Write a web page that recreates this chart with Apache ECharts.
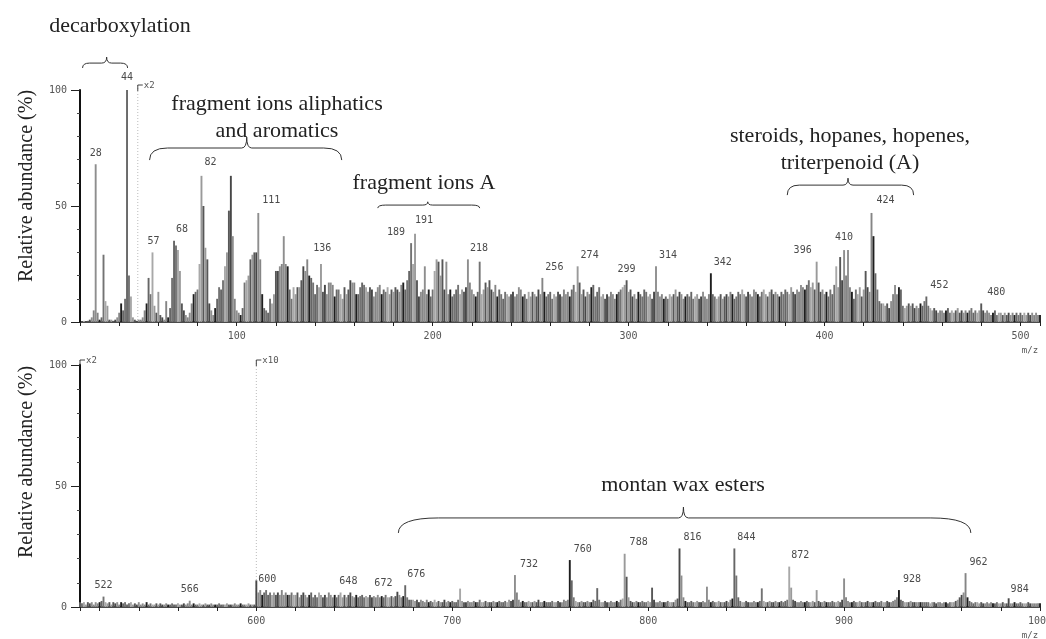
<!DOCTYPE html>
<html><head><meta charset="utf-8">
<script src="https://cdn.jsdelivr.net/npm/echarts@6/dist/echarts.min.js"></script>
<style>html,body{margin:0;padding:0;background:#fff}#c{width:1046px;height:639px}</style>
</head><body><div id="c"></div>
<script>
// ---------- DATA ----------
const topStart = 20; // m/z of first value, one value per integer m/z
const topValues = [
  0,0,0.5,0,0.5,1,2,5,68,4,
  1,2,29,9,7,1,1,0.5,1,2,
  4,8,5,10,100,20,11,2,1,0.5,
  1,1,2,5,8,19,12,30,7,4,
  13,3,2,1,9,2,6,19,35,33,
  31,22,8,5,3,2,4,8,12,13,
  14,25,63,50,32,27,8,5,3,6,
  10,15,14,18,24,30,48,63,37,10,
  5,4,3,6,17,18,20,27,29,30,
  30,47,27,12,6,5,4,10,8,12,
  22,22,24,25,37,25,24,14,10,15,
  12,15,15,18,24,22,27,20,19,17,
  12,16,15,25,13,16,12,17,17,16,
  11,14,14,12,10,15,12,14,18,17,
  17,12,12,15,17,16,15,13,15,14,
  11,13,15,16,12,14,13,15,12,14,
  13,15,14,13,16,17,14,18,22,34,
  25,38,18,11,13,14,24,12,14,11,
  14,22,27,26,20,27,14,26,12,14,
  11,12,14,16,12,14,13,15,27,17,
  14,12,11,13,26,12,14,17,15,18,
  14,13,16,11,14,12,10,13,12,11,
  12,13,11,12,15,14,11,12,10,13,
  11,13,12,11,14,12,19,13,11,12,
  13,10,12,11,13,12,11,14,12,13,
  11,14,16,13,24,17,12,14,11,13,
  12,15,16,11,13,15,11,12,10,12,
  11,13,12,10,12,13,14,15,16,18,
  13,14,11,12,10,13,12,11,14,13,
  11,12,10,13,24,13,11,12,10,11,
  10,12,11,12,14,11,13,12,10,11,
  12,11,13,10,11,12,10,11,13,11,
  10,12,21,12,11,10,11,12,10,11,
  12,11,13,12,10,11,13,12,14,12,
  11,13,12,11,14,13,12,11,13,14,
  12,11,13,14,12,13,12,11,13,12,
  14,13,12,15,13,12,14,13,16,15,
  14,16,18,15,17,14,26,17,13,14,
  12,13,11,14,12,16,24,15,28,18,
  31,20,31,15,13,10,14,12,15,11,
  14,22,15,13,47,37,21,14,9,8,
  8,7,8,6,9,12,16,12,15,14,
  7,6,7,8,7,8,6,7,6,8,
  7,9,11,7,6,5,6,5,4,5,
  5,4,5,6,4,5,4,5,6,4,
  5,4,5,4,5,6,4,5,4,5,
  8,5,4,5,4,3,4,5,3,4,
  4,3,4,3,4,3,4,3,4,3,
  4,3,4,3,4,3,4,3,4,3,
  3
];
const bottomStart = 510;
const bottomValues = [
  2,1.5,2,1,2,1.5,2,1,2,1.5,
  2,2.5,4.3,2,1.5,2,1,2,1.5,2,
  1,2,1.5,2,1,1.5,2,1,1.5,1,
  2,1,1.5,1,2,1,1.5,1,1,1.5,
  1,1.5,1,1,1.5,1,1,1.5,1,1,
  1.5,1,1,1.5,1,1.5,2.6,1,1.5,1,
  1,1.5,1,1,1.5,1,1,1.5,1,1,
  1,1.5,1,1,1,1.5,1,1,1,1.5,
  1,1,1.5,1,1,1,1.5,1,1,1,
  11,6,7,5,6,7,5,6,5,6,
  5,6,5,7,5,6,5,5,6,5,
  5,6,4,5,6,5,4,5,6,4,
  5,4,6,5,4,5,4,6,5,4,
  5,4,5,6,4,5,4,5,6,4.5,
  4,5,4,4.5,5,4,4.5,4,5,4,
  4.5,4,5,4,4.5,4,5,4,4,4.5,
  4,4.5,6.3,5,4,4.5,9,4,3,3,
  3,2.5,3,2,3,2.5,2,3,2,2.5,
  2,3,2,2.5,2,2,3,2,2.5,2,
  2.5,2,2,3,7.6,2.5,2,2,2.5,2,
  2,2.5,2,2,3,2,2,2.5,2,2,
  2,2.5,2,2,2.5,2,2,2.5,2,3,
  2.5,3,13.2,6,3,2,2.5,2,2,2.5,
  2,2,2.5,2,3,2,2,2.5,2,2,
  2,2.5,2,2,2.5,2,2,3,2.5,3,
  19.4,11,4,2.5,2,2,2.5,2,2,2.5,
  2,2,3,2.5,7.8,3,2,2,2.5,2,
  2,2.5,2,2,2.5,2,3,3.5,22,12.5,
  4,2.5,2,2,2.5,2,2,2.5,2,2,
  2.5,2,8,3,2,2,2.5,2,2,2,
  2.5,2,2,2,3,3.5,24.2,13,4,2.5,
  2,2,2.5,2,2,2.5,2,2,2.5,2,
  8.4,3,2,2.5,2,2,2.5,2,2,2,
  2.5,2,3,3.5,24.2,13,4,2.5,2,2,
  2.5,2,2,2,2.5,2,2,2.5,7.7,2.5,
  2,2,2.5,2,2,2.5,2,2,2.5,2,
  2.5,3,16.7,8,3,2.5,2,2,2.5,2,
  2,2.5,2,2,2.5,2,7,2.5,2,2,
  2.5,2,2,2,2.5,2,2,2.5,2,3,
  11.8,4,2.5,2,2,2.5,2,2,2.5,2,
  2,2,2.5,2,2,2,2.5,2,2,2.5,
  2,2,2.5,2,2,2.5,3,4,7,3,
  2.5,2,2,2,2.5,2,2,2,2,2,
  2,2,2,2,1.5,2,2,1.5,2,2,
  1.5,2,2,1.5,2,2,2,2.5,3,4,
  5,6,14,4,2.5,2,1.5,2,2,1.5,
  2,1.5,1.5,2,1.5,2,1.5,1.5,2,1.5,
  1.5,2,1.5,1.5,3.6,1.5,1.5,2,1.5,1.5,
  2,1.5,1.5,1.5,2,1.5,1.5,1.5,1.5,1.5,
  1.5
];
const topPeakLabels = [28,44,57,68,82,111,136,189,191,218,256,274,299,314,342,396,410,424,452,480];
const bottomPeakLabels = [522,566,600,648,672,676,732,760,788,816,844,872,928,962,984];
const xTickLabelsTop = [100,200,300,400,500];
const xTickLabelsBottom = [600,700,800,900,1000];
const yTickLabels = [0,50,100];
const yTitle = 'Relative abundance (%)';
const xUnit = 'm/z';
const annotations = [
  {text:'decarboxylation'},
  {text:'fragment ions aliphatics'},
  {text:'and aromatics'},
  {text:'fragment ions A'},
  {text:'steroids, hopanes, hopenes,'},
  {text:'triterpenoid (A)'},
  {text:'montan wax esters'}
];
const magnifiers = [{grid:0, mz:49.5, text:'x2'},{grid:1, mz:510, text:'x2'},{grid:1, mz:600, text:'x10'}];
// brace ranges in data units (m/z range, apex m/z, levels in %)
const braces = [
  {grid:0, from:21.3, to:44.3, apex:33.6, yEnd:109.5, yFlat:111.6, yTip:114.2},
  {grid:0, from:55.5, to:153.6, apex:105.1, yEnd:69.8, yFlat:75, yTip:79.7},
  {grid:0, from:172, to:224, apex:197.5, yEnd:49.1, yFlat:50.4, yTip:51.8},
  {grid:0, from:381, to:445.5, apex:412, yEnd:54.7, yFlat:59, yTip:62},
  {grid:1, from:672.5, to:964.7, apex:818, yEnd:30.6, yFlat:36.8, yTip:41.3}
];

// ---------- LAYOUT / STYLE ----------
const labelShift = {28:[0,0],44:[0,-2],57:[1,0],68:[8,0],82:[9,-2],111:[13,-2],136:[15,0],189:[-15,0],191:[9,-2],218:[11,0],
  256:[12,0],274:[12,0],299:[0,0],314:[12,0],342:[12,0],396:[-14,0],410:[0,-2],424:[14,-2],452:[13,0],480:[15,0],
  522:[0,0],566:[0,0],600:[11,10],648:[-2,0],672:[-14,3],676:[11,0],732:[14,0],760:[13,0],788:[14,0],816:[13,0],
  844:[12,0],872:[11,0],928:[13,0],962:[13,0],984:[11,2]};
const braceRound = [7, 18, 8, 12, 40];
const annoPos = [[120,26],[277,104],[277,131],[424,183],[850,136],[850,163],[683,485]];
const shades = ['#666666','#858585','#474747','#9a9a9a','#737373','#1e1e1e','#8e8e8e','#575757','#a8a8a8'];
const monoFont = '"DejaVu Sans Mono", monospace';
const serifFont = '"Liberation Serif", "DejaVu Serif", serif';

function buildData(start, values, labels) {
  return values.map((v, i) => {
    const m = start + i;
    const item = { value: [m, v] };
    if (labels.indexOf(m) >= 0) {
      const s = labelShift[m] || [10, 0];
      item.label = { show: true, formatter: String(m), offset: [s[0], -2 + s[1]] };
    }
    return item;
  });
}

function xAxisFor(gridIndex, min, max, labels) {
  return {
    type: 'value', gridIndex, min, max, splitNumber: 25,
    axisLine: { show: true, onZero: false, lineStyle: { color: '#111', width: 1.5 } },
    axisTick: { show: true, length: 4, lineStyle: { color: '#222' } },
    axisLabel: { margin: 9, fontFamily: monoFont, fontSize: 10, color: '#555', hideOverlap: false,
      formatter: v => labels.indexOf(v) >= 0 ? String(v) : '' , showMinLabel: true, showMaxLabel: true},
    splitLine: { show: false }
  };
}
function yAxisFor(gridIndex) {
  return {
    type: 'value', gridIndex, min: 0, max: 100, interval: 50,
    axisLine: { show: true, lineStyle: { color: '#111', width: 2 } },
    axisTick: { show: true, length: 9, lineStyle: { color: '#222' } },
    minorTick: { show: true, splitNumber: 5, length: 3, lineStyle: { color: '#444' } },
    axisLabel: { margin: 13, fontFamily: monoFont, fontSize: 10, color: '#555',
      formatter: v => yTickLabels.indexOf(v) >= 0 ? String(v) : '' },
    splitLine: { show: false }
  };
}
const barStyle = {
  color: p => shades[(p.dataIndex * 4 + (p.dataIndex >> 3)) % shades.length]
};
const labelStyle = { show: false, position: 'top', distance: 4, fontFamily: monoFont, fontSize: 10, color: '#4a4a4a' };

const option = {
  animation: false,
  backgroundColor: '#fff',
  grid: [
    { left: 80, right: 6, top: 90, height: 232, outerBoundsMode: 'none', containLabel: false },
    { left: 80, right: 6, top: 365, height: 242, outerBoundsMode: 'none', containLabel: false }
  ],
  xAxis: [xAxisFor(0, 20, 510, xTickLabelsTop), xAxisFor(1, 510, 1000, xTickLabelsBottom)],
  yAxis: [yAxisFor(0), yAxisFor(1)],
  series: [
    { type: 'bar', xAxisIndex: 0, yAxisIndex: 0, barWidth: 1.9, itemStyle: barStyle, label: labelStyle,
      data: buildData(topStart, topValues, topPeakLabels), clip: false },
    { type: 'bar', xAxisIndex: 1, yAxisIndex: 1, barWidth: 1.9, itemStyle: barStyle, label: labelStyle,
      data: buildData(bottomStart, bottomValues, bottomPeakLabels), clip: false }
  ]
};
const chart = echarts.init(document.getElementById('c'), null, { renderer: 'canvas' });
chart.setOption(option);

const px = (g, m, v) => chart.convertToPixel({ gridIndex: g }, [m, v]);
const txt = (x, y, text, font, fill, align, rotation) => ({
  type: 'text', x, y, rotation: rotation || 0,
  style: { text, font, fill, align, verticalAlign: 'middle', textAlign: align, textVerticalAlign: 'middle' }
});
const graphics = [];
// y titles
[[27, 186], [27, 462]].forEach(([x, y]) => graphics.push(txt(x, y, yTitle, '20px ' + serifFont, '#222', 'center', Math.PI / 2)));
// m/z units
[0, 1].forEach(g => {
  const p = px(g, g === 0 ? 510 : 1000, 0);
  graphics.push(txt(p[0] - 10, p[1] + 29, xUnit, '9px ' + monoFont, '#555', 'center'));
});
// annotation texts
annotations.forEach((a, i) => graphics.push(txt(annoPos[i][0], annoPos[i][1], a.text, '22px ' + serifFont, '#222', 'center')));
// braces: built from quadratic curves and lines
const stroke = { stroke: '#333', lineWidth: 1, fill: null };
const qc = (x1, y1, cx, cy, x2, y2) => ({ type: 'bezierCurve', shape: { x1, y1, cpx1: cx, cpy1: cy, x2, y2 }, style: stroke });
const ln = (x1, y1, x2, y2) => ({ type: 'line', shape: { x1, y1, x2, y2 }, style: stroke });
braces.forEach((b, i) => {
  const r = braceRound[i];
  const [x1, yE] = px(b.grid, b.from, b.yEnd);
  const [x2] = px(b.grid, b.to, b.yEnd);
  const [xm, yT] = px(b.grid, b.apex, b.yTip);
  const yF = px(b.grid, b.from, b.yFlat)[1];
  graphics.push(qc(x1, yE, x1, yF, x1 + r, yF));
  graphics.push(ln(x1 + r, yF, xm - 5, yF));
  graphics.push(qc(xm - 5, yF, xm, yF, xm, yT));
  graphics.push(qc(xm, yT, xm, yF, xm + 5, yF));
  graphics.push(ln(xm + 5, yF, x2 - r, yF));
  graphics.push(qc(x2 - r, yF, x2, yF, x2, yE));
});
// magnification markers
magnifiers.forEach(mk => {
  const top = px(mk.grid, mk.mz, 100);
  const base = px(mk.grid, mk.mz, 0);
  const yTop = top[1] - 5;
  graphics.push({ type: 'line', shape: { x1: top[0], y1: yTop, x2: base[0], y2: base[1] },
    style: { stroke: '#bbb', lineWidth: 1, lineDash: [1, 2] } });
  graphics.push({ type: 'polyline', shape: { points: [[top[0], yTop + 6], [top[0], yTop], [top[0] + 5, yTop]] },
    style: { stroke: '#444', lineWidth: 1, fill: null } });
  graphics.push(txt(top[0] + 6, yTop + 1, mk.text, '9px ' + monoFont, '#555', 'left'));
});
chart.setOption({ graphic: { elements: graphics } });
</script>
</body></html>
